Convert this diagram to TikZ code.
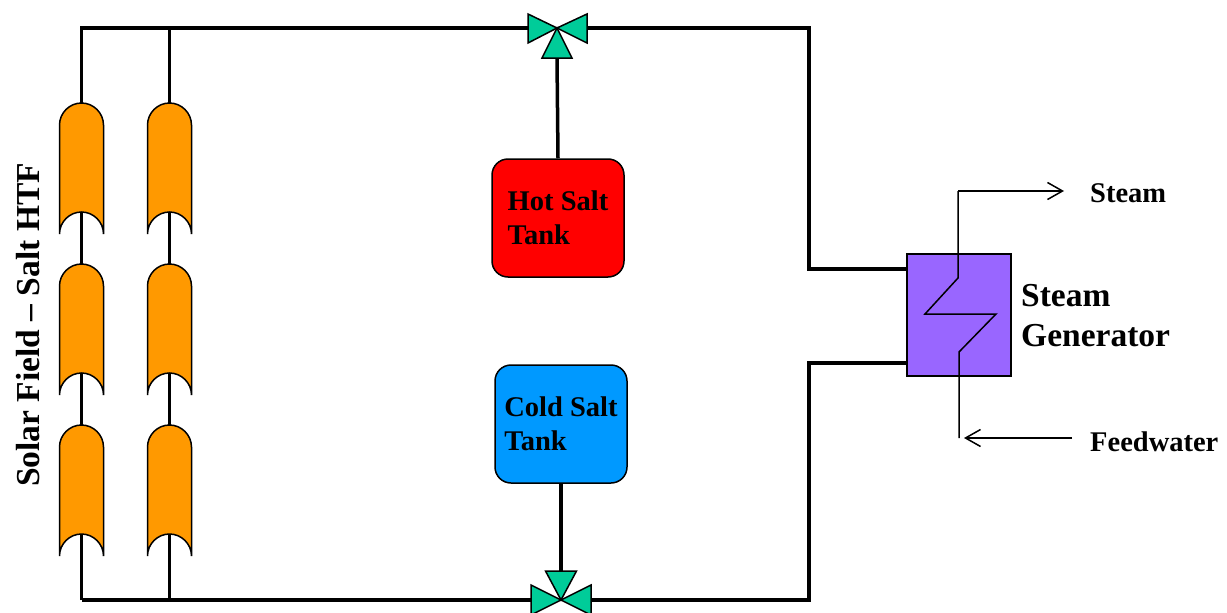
\documentclass[tikz,border=0pt]{standalone}
\usepackage{fontspec}
\setmainfont{Liberation Serif}
\usetikzlibrary{arrows.meta}
\definecolor{cspOrange}{HTML}{FF9900}
\definecolor{cspGreen}{HTML}{00CC99}
\definecolor{cspRed}{HTML}{FF0000}
\definecolor{cspBlue}{HTML}{0099FF}
\definecolor{cspPurple}{HTML}{9966FF}
\tikzset{
  pipe/.style={line width=3.5pt, line join=miter},
  thinline/.style={line width=1.5pt},
  outline/.style={draw=black, line width=1.5pt},
  smalltext/.style={font=\bfseries\fontsize{28.5}{34}\selectfont, inner sep=0pt},
  bigtext/.style={font=\bfseries\fontsize{33.5}{40}\selectfont, inner sep=0pt},
  tank/.style={outline, rounded corners=16pt, minimum width=132pt, minimum height=118pt,
    align=left, font=\bfseries\fontsize{28.5}{34}\selectfont},
  valvetri/.style={outline, fill=cspGreen, line join=miter},
  flowarrow/.style={thinline, -{Straight Barb[length=15pt,width=17pt,line width=1.5pt]}},
  collector/.pic={
    \filldraw[fill=cspOrange, line width=1.5pt]
      (-22,22) .. controls (-22,10) and (-12,0) .. (0,0)
      .. controls (12,0) and (22,10) .. (22,22)
      -- (22,131) .. controls (22,119) and (12,109) .. (0,109)
      .. controls (-12,109) and (-22,119) .. (-22,131) -- cycle;
  }
}
\begin{document}
\begin{tikzpicture}[x=1pt,y=-1pt]
\useasboundingbox (0,0) rectangle (1227,613);

% named points
\coordinate (tl) at (81.5,28);
\coordinate (tm) at (169.5,28);
\coordinate (bl) at (81.5,600);
\coordinate (bm) at (169.5,600);
\coordinate (v1) at (557,28);
\coordinate (v1l) at (528,28);
\coordinate (v1r) at (587,28);
\coordinate (v1b) at (557,58);
\coordinate (v2) at (561,600);
\coordinate (v2l) at (531,600);
\coordinate (v2r) at (591,600);
\coordinate (v2t) at (561,571);
\coordinate (rt) at (809,28);
\coordinate (rb) at (809,600);

% tanks and steam generator
\node[tank, fill=cspRed] (hot) at (558,218) {Hot Salt\\Tank};
\node[tank, fill=cspBlue] (cold) at (561,424) {Cold Salt\\Tank};
\node[outline, fill=cspPurple, minimum width=104pt, minimum height=122pt, inner sep=0pt] (sg) at (959,315) {};

% pipes
\draw[pipe] (bl) -- (tl) -- (v1l);
\draw[pipe] (tm) -- (bm);
\draw[pipe] (bl) -- (v2l);
\draw[pipe] (v1r) -- (rt) -- (rt |- 0,269) -- (sg.west |- 0,269);
\draw[pipe] (v2r) -- (rb) -- (rb |- 0,363) -- (sg.west |- 0,363);
\draw[pipe] (v1b) -- (hot.north);
\draw[pipe] (cold.south) -- (v2t);

% collectors
\foreach \cx in {81.5,169.5}
  \foreach \ty in {103,264,425}
    \pic at (\cx,\ty) {collector};

% valves
\filldraw[valvetri] (528,14) -- (528,43) -- (v1) -- cycle;
\filldraw[valvetri] (587,14) -- (587,43) -- (v1) -- cycle;
\filldraw[valvetri] (v1) -- (542,58) -- (572,58) -- cycle;
\filldraw[valvetri] (531,585) -- (531,615) -- (v2) -- cycle;
\filldraw[valvetri] (591,585) -- (591,615) -- (v2) -- cycle;
\filldraw[valvetri] (v2) -- (545.5,571) -- (576.5,571) -- cycle;

% steam coil
\coordinate (coilTop) at (958,191);
\coordinate (coilBot) at (959,438);
\coordinate (steamEnd) at (1064,191);
\coordinate (fwStart) at (1072,438);
\coordinate (fwEnd) at (964,438);
\draw[thinline, line join=miter] (coilTop) -- (958,278) -- (925,314) -- (996,314) -- (959,352) -- (coilBot);
\draw[flowarrow] (coilTop) -- (steamEnd);
\draw[flowarrow] (fwStart) -- (fwEnd);

% labels
\node[smalltext, anchor=base west] (steamlbl) at (1090,202) {Steam};
\node[smalltext, anchor=base west] (fwlbl) at (1090,451) {Feedwater};
\node[bigtext, anchor=west, align=left] (sglbl) at (1021,316) {Steam\\Generator};
\node[bigtext, rotate=90] (solar) at (28,325) {Solar Field -- Salt HTF};
\end{tikzpicture}
\end{document}
